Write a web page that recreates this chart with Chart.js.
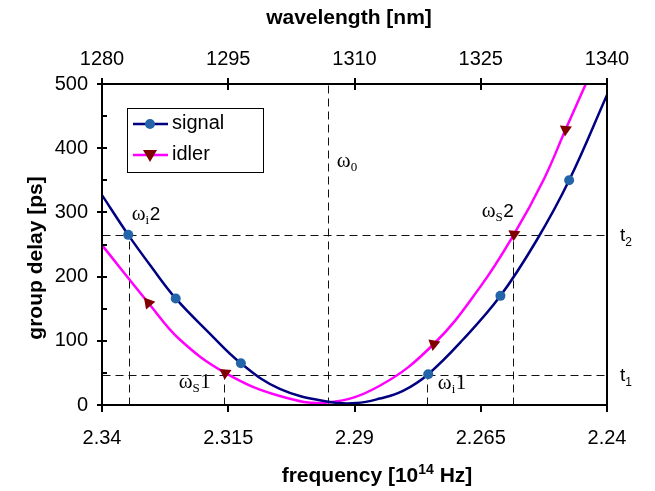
<!DOCTYPE html>
<html><head><meta charset="utf-8">
<script src="https://cdn.jsdelivr.net/npm/chart.js@4"></script>
<style>html,body{margin:0;padding:0;background:#fff;} canvas{display:block;}</style>
</head><body>
<canvas id="c" width="655" height="491"></canvas>
<script>
const xTicks = [2.34, 2.315, 2.29, 2.265, 2.24];
const topTicks = [1280, 1295, 1310, 1325, 1340];
const yTicks = [0, 100, 200, 300, 400, 500];
const yMinorTicks = [50, 150, 250, 350, 450];

const signalFreq  = [2.3400, 2.3348, 2.3302, 2.3254, 2.3190, 2.3125, 2.3048, 2.2952, 2.2896, 2.2850, 2.2804, 2.2754, 2.2685, 2.2611, 2.2539, 2.2475, 2.2400];
const signalDelay = [327, 265, 215, 166, 114, 65, 25, 5, 3, 10, 22, 48, 102, 170, 257, 350, 483];
const idlerFreq   = [2.3400, 2.3308, 2.3246, 2.3156, 2.3048, 2.2952, 2.2850, 2.2743, 2.2651, 2.2584, 2.2526, 2.2482, 2.2442];
const idlerDelay  = [249, 159, 102, 50, 14, 4, 30, 95, 184, 266, 350, 429, 500];

const signalMarkFreq  = [2.3348, 2.3254, 2.3125, 2.2754, 2.2611, 2.2475];
const signalMarkDelay = [265, 166, 65, 48, 170, 350];
const idlerMarkFreq   = [2.3308, 2.3156, 2.2743, 2.2584, 2.2482];
const idlerMarkDelay  = [159, 50, 95, 266, 429];
const idlerMarkRot    = [320, 185, 190, 185, 185];

const omega0 = 2.2952;
const delayT1 = 47, delayT2 = 265;
const omegaI2 = 2.3347, omegaS1 = 2.3158, omegaI1 = 2.2756, omegaS2 = 2.2586;

const seriesNames = ['signal', 'idler'];

const NAVY = '#000080', MAG = '#FF00FF', BLUE = '#2464A8', DRED = '#800000';
const SANS = '"Liberation Sans", Arial, sans-serif';
const SERIF = '"Liberation Serif", "Times New Roman", serif';

function pts(xs, ys) { return xs.map((x, i) => ({x: x, y: ys[i]})); }

const overlay = {
  id: 'overlay',
  beforeDatasetsDraw(chart) {
    const {ctx, chartArea: a, scales: {x, y}} = chart;
    ctx.save();
    ctx.beginPath(); ctx.rect(a.left, a.top, a.right - a.left, a.bottom - a.top); ctx.clip();
    ctx.strokeStyle = '#111'; ctx.lineWidth = 1; ctx.setLineDash([8, 5]);
    const seg = (x1, y1, x2, y2) => {
      ctx.beginPath();
      ctx.moveTo(Math.round(x.getPixelForValue(x1)) + 0.5, Math.round(y.getPixelForValue(y1)) + 0.5);
      ctx.lineTo(Math.round(x.getPixelForValue(x2)) + 0.5, Math.round(y.getPixelForValue(y2)) + 0.5);
      ctx.stroke();
    };
    seg(xTicks[0], delayT2, xTicks[xTicks.length - 1], delayT2);
    seg(xTicks[0], delayT1, xTicks[xTicks.length - 1], delayT1);
    seg(omega0, 0, omega0, 500);
    seg(omegaI2, 0, omegaI2, delayT2);
    seg(omegaS2, 0, omegaS2, delayT2);
    seg(omegaS1, 0, omegaS1, delayT1);
    seg(omegaI1, 0, omegaI1, delayT1);
    ctx.restore();
  },
  afterDatasetsDraw(chart) {
    const {ctx, chartArea: a, scales: {x, x2, y}} = chart;
    ctx.save();
    // frame
    ctx.strokeStyle = '#000'; ctx.lineWidth = 2; ctx.setLineDash([]);
    ctx.strokeRect(a.left, a.top, a.right - a.left, a.bottom - a.top);
    // ticks
    ctx.beginPath();
    yTicks.forEach(v => { const p = Math.round(y.getPixelForValue(v)); ctx.moveTo(a.left - 5, p); ctx.lineTo(a.left + 5, p); });
    yMinorTicks.forEach(v => { const p = Math.round(y.getPixelForValue(v)); ctx.moveTo(a.left, p); ctx.lineTo(a.left + 5, p); });
    xTicks.forEach(v => { const p = Math.round(x.getPixelForValue(v)); ctx.moveTo(p, a.bottom); ctx.lineTo(p, a.bottom + 7); });
    topTicks.forEach(v => { const p = Math.round(x2.getPixelForValue(v)); ctx.moveTo(p, a.top - 6); ctx.lineTo(p, a.top + 6); });
    ctx.stroke();

    // annotations
    ctx.fillStyle = '#000'; ctx.textBaseline = 'alphabetic'; ctx.textAlign = 'left';
    const omegaLabel = (fx, dy, sub, num, numSerif) => {
      let px = x.getPixelForValue(fx), py = y.getPixelForValue(dy);
      ctx.font = '21px ' + SERIF; ctx.fillText('\u03C9', px, py); px += ctx.measureText('\u03C9').width;
      ctx.font = '13px ' + SERIF; ctx.fillText(sub, px, py + 4); px += ctx.measureText(sub).width;
      if (num) { ctx.font = numSerif ? ('21px ' + SERIF) : ('19px ' + SANS); ctx.fillText(num, px + 0.5, py); }
    };
    omegaLabel(2.2935, 371, '0', '', false);
    omegaLabel(2.3341, 288, 'i', '2', false);
    omegaLabel(2.2648, 293, 'S', '2', false);
    omegaLabel(2.3248, 26.5, 'S', '1', true);
    omegaLabel(2.2735, 25, 'i', '1', true);
    const tLabel = (dv, sub) => {
      const px = a.right + 13, py = Math.round(y.getPixelForValue(dv)) + 6;
      ctx.font = '19px ' + SANS; ctx.fillText('t', px, py);
      const w = ctx.measureText('t').width;
      ctx.font = '12px ' + SANS; ctx.fillText(sub, px + w, py + 5);
    };
    tLabel(delayT2, '2');
    tLabel(delayT1, '1');

    // legend
    const lx = 127, ly = 108, lw = 136, lh = 64;
    ctx.fillStyle = '#fff'; ctx.fillRect(lx, ly, lw, lh);
    ctx.strokeStyle = '#000'; ctx.lineWidth = 1;
    ctx.strokeRect(lx + 0.5, ly + 0.5, lw, lh);
    const rows = [ {y: 124, color: NAVY, mark: 'c'}, {y: 155, color: MAG, mark: 't'} ];
    rows.forEach((r, i) => {
      ctx.strokeStyle = r.color; ctx.lineWidth = 2.5;
      ctx.beginPath(); ctx.moveTo(133, r.y); ctx.lineTo(168, r.y); ctx.stroke();
      if (r.mark === 'c') {
        ctx.fillStyle = BLUE; ctx.beginPath(); ctx.arc(150, r.y, 5, 0, Math.PI * 2); ctx.fill();
      } else {
        ctx.fillStyle = DRED; ctx.beginPath();
        ctx.moveTo(143, r.y - 5); ctx.lineTo(157, r.y - 5); ctx.lineTo(150, r.y + 7); ctx.closePath(); ctx.fill();
      }
      ctx.fillStyle = '#000'; ctx.font = '20px ' + SANS; ctx.textBaseline = 'middle';
      ctx.fillText(seriesNames[i], 172, r.y - 1);
    });

    // axis titles
    ctx.textBaseline = 'alphabetic';
    ctx.font = 'bold 21px ' + SANS; ctx.textAlign = 'center';
    ctx.fillText('wavelength [nm]', 349, 24);
    // bottom title with superscript
    const parts = [['frequency [10', 'bold 21px ' + SANS, 0], ['14', 'bold 14px ' + SANS, -8], [' Hz]', 'bold 21px ' + SANS, 0]];
    let tw = 0; parts.forEach(p => { ctx.font = p[1]; tw += ctx.measureText(p[0]).width; });
    let bx = 377 - tw / 2; ctx.textAlign = 'left';
    parts.forEach(p => { ctx.font = p[1]; ctx.fillText(p[0], bx, 482 + p[2]); bx += ctx.measureText(p[0]).width; });
    // y title
    ctx.save(); ctx.translate(42, 258); ctx.rotate(-Math.PI / 2);
    ctx.font = 'bold 21px ' + SANS; ctx.textAlign = 'center'; ctx.fillText('group delay [ps]', 0, 0);
    ctx.restore();
    ctx.restore();
  }
};

const tickFont = {family: SANS, size: 20};

new Chart(document.getElementById('c'), {
  type: 'line',
  data: {
    datasets: [
      { label: seriesNames[0], data: pts(signalFreq, signalDelay), borderColor: NAVY, borderWidth: 2.5,
        pointRadius: 0, tension: 0.4, fill: false, order: 2 },
      { label: seriesNames[1], data: pts(idlerFreq, idlerDelay), borderColor: MAG, borderWidth: 2.5,
        pointRadius: 0, tension: 0.4, fill: false, order: 3 },
      { label: 'signal markers', data: pts(signalMarkFreq, signalMarkDelay), showLine: false,
        pointStyle: 'circle', pointRadius: 5, pointBackgroundColor: BLUE, pointBorderWidth: 0, borderColor: BLUE, order: 0 },
      { label: 'idler markers', data: pts(idlerMarkFreq, idlerMarkDelay), showLine: false,
        pointStyle: 'triangle', pointRadius: 7, pointRotation: idlerMarkRot, pointBackgroundColor: DRED, pointBorderWidth: 0, borderColor: DRED, order: 1 }
    ]
  },
  options: {
    responsive: false, animation: false, devicePixelRatio: 1,
    layout: {padding: {left: 0, right: 48, top: 0, bottom: 0}},
    plugins: {legend: {display: false}, tooltip: {enabled: false}},
    scales: {
      x: { type: 'linear', position: 'bottom', reverse: true, min: 2.24, max: 2.34,
        afterBuildTicks: s => { s.ticks = xTicks.map(v => ({value: v})); },
        afterFit: s => { s.height = 86; },
        grid: {display: false, drawTicks: false}, border: {display: false},
        ticks: {color: '#000', font: tickFont, padding: 21, maxRotation: 0, autoSkip: false, callback: v => String(v)} },
      x2: { type: 'linear', position: 'top', min: 1280, max: 1340,
        afterBuildTicks: s => { s.ticks = topTicks.map(v => ({value: v})); },
        afterFit: s => { s.height = 84; },
        grid: {display: false, drawTicks: false}, border: {display: false},
        ticks: {color: '#000', font: tickFont, padding: 13, maxRotation: 0, autoSkip: false, callback: v => String(v)} },
      y: { type: 'linear', position: 'left', min: 0, max: 500,
        afterBuildTicks: s => { s.ticks = yTicks.map(v => ({value: v})); },
        afterFit: s => { s.width = 102; },
        grid: {display: false, drawTicks: false}, border: {display: false},
        ticks: {color: '#000', font: tickFont, padding: 14, callback: v => String(v)} }
    }
  },
  plugins: [overlay]
});
</script>
</body></html>
